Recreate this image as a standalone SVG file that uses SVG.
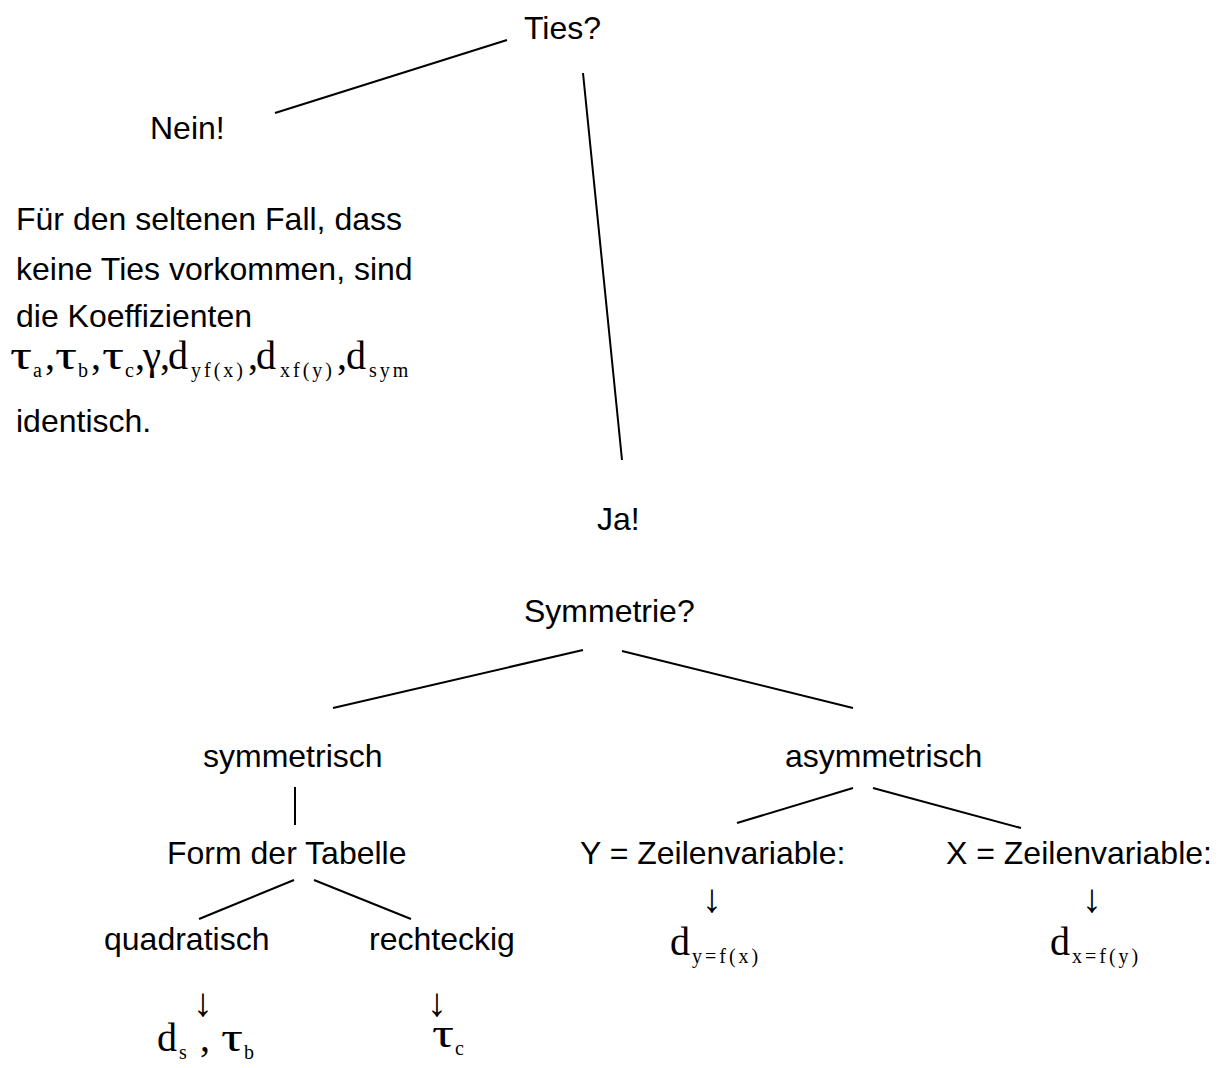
<svg xmlns="http://www.w3.org/2000/svg" width="1220" height="1068" viewBox="0 0 1220 1068">
<style>
.t{font-family:"Liberation Sans",Arial,sans-serif;font-size:32px;fill:#000}
.m{font-family:"Liberation Serif","Times New Roman",serif;font-size:40px;fill:#000}
.a{font-family:"Liberation Serif","Times New Roman",serif;font-size:40px;fill:#000}
.s{font-family:"Liberation Serif","Times New Roman",serif;font-size:20px;fill:#000;letter-spacing:3px}
.c line{stroke:#000;stroke-width:2}
</style>
<rect width="1220" height="1068" fill="#fff"/>
<g class="c" id="connectors">
<line x1="275" y1="113" x2="507" y2="40"/>
<line x1="583" y1="73" x2="622" y2="460"/>
<line x1="583" y1="650" x2="333" y2="708"/>
<line x1="622" y1="651" x2="853" y2="708"/>
<line x1="295" y1="787" x2="295" y2="825"/>
<line x1="294" y1="880" x2="199" y2="919"/>
<line x1="314" y1="880" x2="411" y2="919"/>
<line x1="853" y1="788" x2="737" y2="823"/>
<line x1="873" y1="788" x2="1021" y2="828"/>
</g>
<g id="ties"><text class="t" x="524" y="39">Ties?</text></g>
<g id="nein"><text class="t" x="150" y="139">Nein!</text></g>
<g id="note">
<text class="t" x="16" y="230">Für den seltenen Fall, dass</text>
<text class="t" x="16" y="280">keine Ties vorkommen, sind</text>
<text class="t" x="16" y="327">die Koeffizienten</text>
<text class="m" y="369"><tspan x="10" textLength="22" lengthAdjust="spacingAndGlyphs">τ</tspan><tspan class="s" x="33" y="377">a</tspan><tspan x="45" y="369">,</tspan><tspan x="55" textLength="22" lengthAdjust="spacingAndGlyphs">τ</tspan><tspan class="s" x="78" y="377">b</tspan><tspan x="91" y="369">,</tspan><tspan x="102" textLength="22" lengthAdjust="spacingAndGlyphs">τ</tspan><tspan class="s" x="125" y="377">c</tspan><tspan x="135" y="369">,</tspan><tspan x="143" textLength="18" lengthAdjust="spacingAndGlyphs">γ</tspan><tspan x="160">,</tspan><tspan x="168">d</tspan><tspan class="s" x="191" y="377">yf(x)</tspan><tspan x="248" y="369">,</tspan><tspan x="256">d</tspan><tspan class="s" x="280" y="377">xf(y)</tspan><tspan x="337" y="369">,</tspan><tspan x="346">d</tspan><tspan class="s" x="369" y="377">sym</tspan></text>
<text class="t" x="16" y="432">identisch.</text>
</g>
<g id="ja"><text class="t" x="597" y="530">Ja!</text></g>
<g id="symmetrie"><text class="t" x="524" y="622">Symmetrie?</text></g>
<g id="symmetrisch"><text class="t" x="203" y="767">symmetrisch</text></g>
<g id="asymmetrisch"><text class="t" x="785" y="767">asymmetrisch</text></g>
<g id="form"><text class="t" x="167" y="864">Form der Tabelle</text></g>
<g id="quadratisch"><text class="t" x="104" y="950">quadratisch</text>
<text class="a" x="193" y="1016">↓</text>
<text class="m" y="1051"><tspan x="157">d</tspan><tspan class="s" x="179" y="1059">s</tspan><tspan x="200" y="1051">,</tspan><tspan x="221" textLength="22" lengthAdjust="spacingAndGlyphs">τ</tspan><tspan class="s" x="244" y="1059">b</tspan></text></g>
<g id="rechteckig"><text class="t" x="369" y="950">rechteckig</text>
<text class="a" x="427" y="1016">↓</text>
<text class="m" y="1047"><tspan x="432" textLength="22" lengthAdjust="spacingAndGlyphs">τ</tspan><tspan class="s" x="455" y="1055">c</tspan></text></g>
<g id="yzeile"><text class="t" x="580" y="864">Y = Zeilenvariable:</text>
<text class="a" x="702" y="912">↓</text>
<text class="m" y="955"><tspan x="670">d</tspan><tspan class="s" x="692" y="963">y=f(x)</tspan></text></g>
<g id="xzeile"><text class="t" x="946" y="864">X = Zeilenvariable:</text>
<text class="a" x="1082" y="912">↓</text>
<text class="m" y="955"><tspan x="1050">d</tspan><tspan class="s" x="1072" y="963">x=f(y)</tspan></text></g>
</svg>
